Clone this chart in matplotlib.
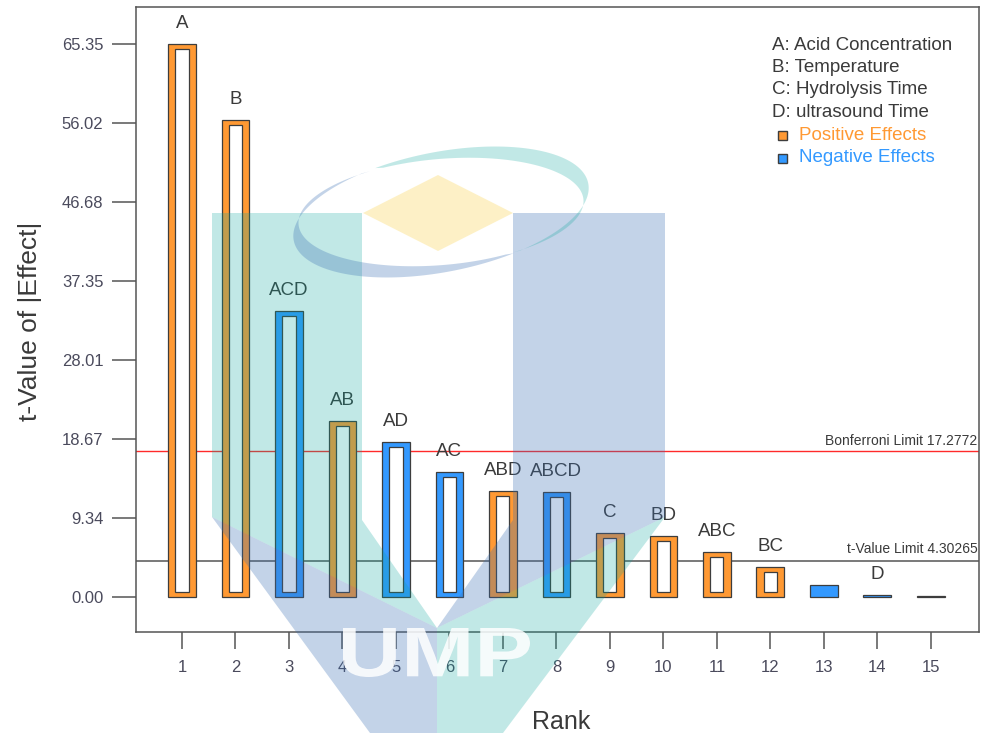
import numpy as np
import matplotlib
matplotlib.use("Agg")
import matplotlib.pyplot as plt
from matplotlib.patches import Polygon, PathPatch, Rectangle
from matplotlib.textpath import TextPath
from matplotlib.font_manager import FontProperties
import matplotlib.transforms as mtransforms

# ---- data -------------------------------------------------------------
ranks = list(range(1, 16))
effect_labels = ["A", "B", "ACD", "AB", "AD", "AC", "ABD", "ABCD",
                 "C", "BD", "ABC", "BC", "", "D", ""]
t_values = [65.35, 56.40, 33.80, 20.80, 18.30, 14.80, 12.50, 12.40,
            7.60, 7.25, 5.30, 3.60, 1.46, 0.20, 0.10]
effect_sign = ["+", "+", "-", "+", "-", "-", "+", "-",
               "+", "+", "+", "+", "-", "-", "+"]
y_ticks = [0.00, 9.34, 18.67, 28.01, 37.35, 46.68, 56.02, 65.35]
bonferroni_limit = 17.2772
t_value_limit = 4.30265
factor_names = ["A: Acid Concentration", "B: Temperature",
                "C: Hydrolysis Time", "D: ultrasound Time"]

# ---- style ------------------------------------------------------------
W, H = 983, 733
plt.rcParams["font.family"] = ["Liberation Sans", "DejaVu Sans"]
ORANGE = "#FF9933"
BLUE = "#3399FF"
EDGE = "#3d3d3d"
TEXT = "#3a3a3a"
TICK_TEXT = "#4a4a5c"
AXIS = "#555555"

fig = plt.figure(figsize=(W / 100, H / 100), dpi=100)
ax = fig.add_axes([136 / W, 1 - 632 / H, (979 - 136) / W, (632 - 7) / H])
ax.set_xlim(0.14, 15.9)
ax.set_ylim(-4.14, 69.72)

# hollow bars: coloured frame with a white core
bar_w = 0.52
core_w = 0.245
inset = 0.6
colors = [ORANGE if s == "+" else BLUE for s in effect_sign]
ax.bar(ranks, t_values, width=bar_w, color=colors, edgecolor=EDGE,
       linewidth=0.9, zorder=3)
core_x = [r for r, v in zip(ranks, t_values) if v > 2.5]
core_h = [v - 2 * inset for v in t_values if v > 2.5]
ax.bar(core_x, core_h, bottom=inset, width=core_w, color="white",
       edgecolor=EDGE, linewidth=0.9, zorder=4)

for r, v, lab in zip(ranks, t_values, effect_labels):
    if lab:
        ax.annotate(lab, (r, v), xytext=(0, 11.5), textcoords="offset points",
                    ha="center", va="baseline", fontsize=13.5, color=TEXT,
                    zorder=5)

# limit lines
ax.axhline(bonferroni_limit, color="#ff2a2a", linewidth=1.0, zorder=2)
ax.axhline(t_value_limit, color="#555555", linewidth=1.1, zorder=2)
ax.annotate(f"Bonferroni Limit {bonferroni_limit}", (1.0, bonferroni_limit),
            xycoords=("axes fraction", "data"), xytext=(-1, 4.5),
            textcoords="offset points", ha="right", va="baseline",
            fontsize=10, color=TEXT)
ax.annotate(f"t-Value Limit {t_value_limit}", (1.0, t_value_limit),
            xycoords=("axes fraction", "data"), xytext=(-1, 5.5),
            textcoords="offset points", ha="right", va="baseline",
            fontsize=10, color=TEXT)

# axes
for sp in ax.spines.values():
    sp.set_color(AXIS)
    sp.set_linewidth(1.1)
ax.set_xticks(ranks)
ax.set_xticklabels([str(r) for r in ranks])
ax.set_yticks(y_ticks)
ax.set_yticklabels([f"{v:.2f}" for v in y_ticks])
ax.tick_params(axis="y", direction="out", length=17, width=1.1, pad=6.5,
               color=AXIS, labelcolor=TICK_TEXT, labelsize=12)
ax.tick_params(axis="x", direction="out", length=12, width=1.1, pad=8,
               color=AXIS, labelcolor=TICK_TEXT, labelsize=12)

fig.text(561 / W, 1 - 729 / H, "Rank", ha="center", va="baseline",
         fontsize=18, color=TEXT)
fig.text(30 / W, 1 - 321 / H, "t-Value of |Effect|", ha="center",
         va="center", rotation=90, fontsize=19, color=TEXT)

# factor key
def fx(x):
    return x / W

def fy(y):
    return 1 - y / H

key_y = [45, 67.5, 90, 112.5]
for name, y in zip(factor_names, key_y):
    fig.text(fx(772), fy(y), name, ha="left", va="center",
             fontsize=13.5, color=TEXT)
for y, col, name in [(135, ORANGE, "Positive Effects"),
                     (157.5, BLUE, "Negative Effects")]:
    fig.add_artist(Rectangle((fx(778), fy(y + 5)), 9 / W, 9 / H,
                             transform=fig.transFigure, facecolor=col,
                             edgecolor=EDGE, linewidth=1.0))
    fig.text(fx(799), fy(y), name, ha="left", va="center",
             fontsize=13.5, color=col)

# ---- background emblem overlay --------------------------------------
px_tr = mtransforms.Affine2D().scale(1 / W, 1 / H) + fig.transFigure

def poly(points, color, alpha):
    pts = [(x, H - y) for x, y in points]
    fig.add_artist(Polygon(pts, closed=True, transform=px_tr,
                           facecolor=color, edgecolor="none",
                           alpha=alpha, zorder=10))

TEAL = (0.04, 0.65, 0.61)
SLATE = (0.23, 0.44, 0.70)
GOLD = (0.98, 0.80, 0.20)

poly([(212, 213), (362, 213), (362, 520), (437, 628), (212, 517)], TEAL, 0.25)
poly([(513, 213), (665, 213), (665, 517), (437, 628), (513, 520)], SLATE, 0.30)
poly([(212, 517), (437, 628), (437, 733), (370, 733)], SLATE, 0.30)
poly([(665, 517), (437, 628), (437, 733), (503, 733)], TEAL, 0.25)
poly([(438, 175), (513, 213), (438, 251), (363, 213)], GOLD, 0.28)

# swoosh ring around the diamond
cx, cy = 441, 212

def ring(t0, t1, color, alpha):
    t = np.radians(np.linspace(t0, t1, 120))
    ro, ri = np.radians(11), np.radians(5)
    ao, bo, ai, bi = 150, 60, 143, 53
    ox = ao * np.cos(t) * np.cos(ro) - bo * np.sin(t) * np.sin(ro)
    oy = ao * np.cos(t) * np.sin(ro) + bo * np.sin(t) * np.cos(ro)
    ix = ai * np.cos(t) * np.cos(ri) - bi * np.sin(t) * np.sin(ri)
    iy = ai * np.cos(t) * np.sin(ri) + bi * np.sin(t) * np.cos(ri)
    pts = [(cx + x, cy - y) for x, y in zip(ox, oy)]
    pts += [(cx + x, cy - y) for x, y in zip(ix[::-1], iy[::-1])]
    poly(pts, color, alpha)

ring(118, 295, SLATE, 0.30)
ring(-62, 112, TEAL, 0.25)

# emblem lettering
tp = TextPath((0, 0), "UMP", size=100,
              prop=FontProperties(family="Liberation Sans", weight="bold"))
ext = tp.get_extents()
sx = (530 - 343) / ext.width
sy = (677 - 628) / ext.height
t_tr = (mtransforms.Affine2D().translate(-ext.x0, -ext.y0)
        .scale(sx, sy).translate(343, H - 677)) + px_tr
fig.add_artist(PathPatch(tp, transform=t_tr, facecolor="white",
                         edgecolor="none", alpha=0.85, zorder=11))

fig.savefig("out.png", dpi=100)
